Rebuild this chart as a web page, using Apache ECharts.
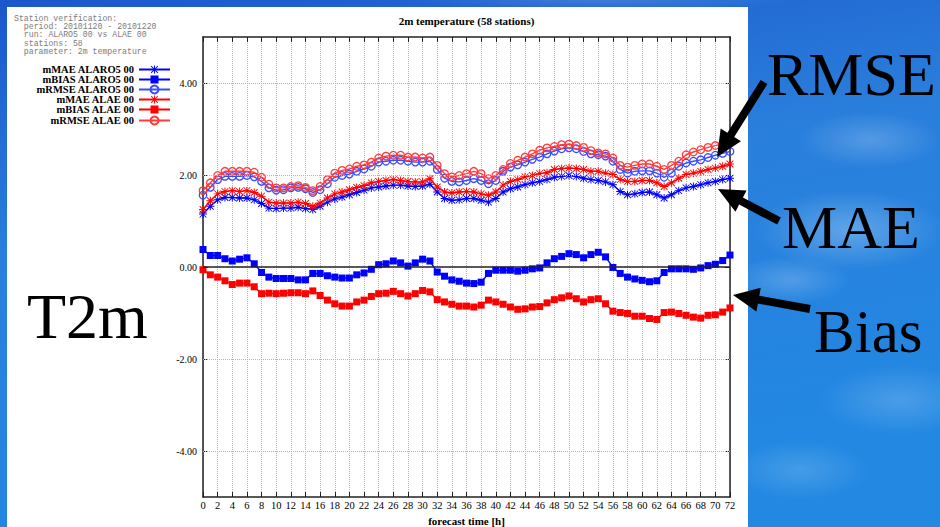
<!DOCTYPE html>
<html>
<head>
<meta charset="utf-8">
<title>2m temperature (58 stations)</title>
<script src="https://cdn.jsdelivr.net/npm/echarts@6/dist/echarts.min.js"></script>
<style>
  html, body { margin: 0; padding: 0; background: #1f66d4; }
  #chart { width: 940px; height: 527px; }
</style>
</head>
<body>
<div id="chart"></div>
<script>
// Forecast lead times [h]
const hours = [0,1,2,3,4,5,6,7,8,9,10,11,12,13,14,15,16,17,18,19,20,21,22,23,24,
  25,26,27,28,29,30,31,32,33,34,35,36,37,38,39,40,41,42,43,44,45,46,47,48,
  49,50,51,52,53,54,55,56,57,58,59,60,61,62,63,64,65,66,67,68,69,70,71,72];

// Scores of ALARO5 00
const maeAlaro = [1.15,1.32,1.46,1.51,1.51,1.50,1.50,1.46,1.38,1.28,1.27,1.28,1.28,1.30,1.27,1.25,1.32,1.41,1.48,1.52,1.57,1.62,1.67,1.72,
  1.74,1.76,1.78,1.78,1.76,1.75,1.76,1.80,1.63,1.49,1.45,1.46,1.49,1.49,1.45,1.41,1.49,1.63,1.70,1.74,1.79,1.83,1.86,1.90,
  1.95,1.97,1.99,1.97,1.93,1.90,1.88,1.85,1.79,1.64,1.57,1.59,1.62,1.63,1.57,1.50,1.57,1.66,1.72,1.75,1.79,1.83,1.86,1.90,1.93];
const biasAlaro = [0.38,0.25,0.25,0.18,0.13,0.17,0.20,0.07,-0.12,-0.22,-0.25,-0.25,-0.25,-0.28,-0.28,-0.14,-0.14,-0.19,-0.22,-0.24,-0.24,-0.17,-0.13,-0.05,
  0.05,0.07,0.13,0.09,0.02,0.09,0.17,0.13,-0.11,-0.20,-0.28,-0.31,-0.35,-0.36,-0.33,-0.14,-0.07,-0.07,-0.07,-0.09,-0.07,-0.04,-0.02,0.09,
  0.18,0.23,0.29,0.27,0.20,0.27,0.32,0.22,-0.01,-0.14,-0.22,-0.26,-0.29,-0.32,-0.30,-0.12,-0.04,-0.04,-0.04,-0.05,-0.02,0.03,0.06,0.14,0.26];
const rmseAlaro = [1.56,1.73,1.90,1.97,1.97,1.97,1.99,1.96,1.86,1.72,1.67,1.68,1.72,1.73,1.70,1.62,1.68,1.81,1.95,1.99,2.02,2.08,2.13,2.19,
  2.28,2.30,2.32,2.32,2.30,2.28,2.28,2.30,2.12,1.93,1.86,1.85,1.88,1.92,1.88,1.81,1.88,2.08,2.17,2.22,2.28,2.34,2.39,2.46,
  2.52,2.57,2.59,2.57,2.51,2.46,2.44,2.41,2.30,2.12,2.04,2.08,2.09,2.09,2.04,1.95,2.04,2.19,2.26,2.30,2.33,2.38,2.43,2.47,2.51];

// Scores of ALAE 00
const maeAlae = [1.25,1.44,1.59,1.64,1.66,1.64,1.66,1.62,1.54,1.41,1.39,1.39,1.39,1.41,1.38,1.32,1.39,1.50,1.59,1.63,1.68,1.73,1.77,1.83,
  1.86,1.88,1.90,1.88,1.86,1.85,1.85,1.92,1.74,1.63,1.61,1.63,1.64,1.63,1.59,1.56,1.63,1.78,1.86,1.90,1.96,1.99,2.03,2.05,
  2.12,2.14,2.15,2.14,2.12,2.08,2.08,2.04,2.01,1.90,1.86,1.86,1.88,1.88,1.83,1.75,1.83,1.93,2.01,2.04,2.08,2.12,2.15,2.19,2.24];
const biasAlae = [-0.06,-0.17,-0.22,-0.30,-0.38,-0.35,-0.35,-0.43,-0.58,-0.57,-0.58,-0.57,-0.56,-0.56,-0.58,-0.52,-0.62,-0.72,-0.80,-0.85,-0.85,-0.76,-0.72,-0.64,
  -0.58,-0.57,-0.53,-0.58,-0.63,-0.58,-0.51,-0.54,-0.71,-0.76,-0.81,-0.85,-0.85,-0.87,-0.83,-0.72,-0.76,-0.81,-0.87,-0.92,-0.91,-0.87,-0.86,-0.78,
  -0.71,-0.67,-0.63,-0.69,-0.76,-0.71,-0.69,-0.80,-0.96,-0.99,-1.01,-1.07,-1.07,-1.12,-1.14,-0.99,-0.98,-1.01,-1.05,-1.09,-1.11,-1.05,-1.04,-0.98,-0.89];
const rmseAlae = [1.66,1.83,1.99,2.08,2.08,2.08,2.08,2.06,1.95,1.80,1.72,1.72,1.75,1.77,1.73,1.66,1.75,1.90,2.04,2.10,2.13,2.19,2.22,2.28,
  2.37,2.41,2.43,2.43,2.39,2.39,2.37,2.39,2.21,2.03,1.96,1.99,2.03,2.08,2.03,1.92,1.99,2.12,2.25,2.32,2.39,2.46,2.54,2.59,
  2.62,2.66,2.67,2.64,2.60,2.53,2.48,2.46,2.37,2.21,2.17,2.21,2.24,2.24,2.19,2.12,2.21,2.30,2.44,2.50,2.55,2.60,2.64,2.68,2.71];

// Axis ticks
const yTicks = [-4, -2, 0, 2, 4];
const yGridLevels = [-4, -2, 2, 4];

// Header block
const headerLines = [
  'Station verification:',
  '  period: 20101120 - 20101220',
  '  run: ALARO5 00 vs ALAE 00',
  '  stations: 58',
  '  parameter: 2m temperature'
];

// Gnuplot style asterisk (plus + cross)
const STAR = 'path://M4.4 0H5.6V10H4.4Z M0 4.4H10V5.6H0Z M0.4 1.2L1.2 0.4L9.6 8.8L8.8 9.6Z M8.8 0.4L9.6 1.2L1.2 9.6L0.4 8.8Z';

const serif = '"Liberation Serif", "DejaVu Serif", serif';

function scoreSeries(name, values, color, symbol, size, hollow, z) {
  return {
    name: name,
    type: 'line',
    data: hours.map((h, i) => [h, values[i]]),
    symbol: symbol,
    symbolSize: size,
    showSymbol: true,
    showAllSymbol: true,
    lineStyle: { color: color, width: 1.4 },
    itemStyle: hollow
      ? { color: 'rgba(255,255,255,0)', borderColor: color, borderWidth: 1.3 }
      : { color: color },
    emphasis: { disabled: true },
    animation: false,
    z: z
  };
}

const series = [
  scoreSeries('mMAE ALARO5 00', maeAlaro, '#0000ff', STAR, 8, false, 3),
  scoreSeries('mBIAS ALARO5 00', biasAlaro, '#0000ff', 'rect', 7, false, 3),
  scoreSeries('mRMSE ALARO5 00', rmseAlaro, '#3a4cff', 'circle', 7.5, true, 3),
  scoreSeries('mMAE ALAE 00', maeAlae, '#ff0000', STAR, 8, false, 4),
  scoreSeries('mBIAS ALAE 00', biasAlae, '#ff0000', 'rect', 7, false, 4),
  scoreSeries('mRMSE ALAE 00', rmseAlae, '#ff3b3b', 'circle', 7.5, true, 4)
];

// horizontal grid and zero axis
series.push({
  type: 'line',
  data: [],
  z: 1,
  silent: true,
  markLine: {
    silent: true,
    symbol: 'none',
    animation: false,
    label: { show: false },
    data: yGridLevels.map(v => ({ yAxis: v, lineStyle: { color: '#b4b4b4', type: 'dotted', width: 1 } }))
      .concat([{ yAxis: 0, lineStyle: { color: '#222', type: 'solid', width: 1.5 } }])
  }
});

const legendRows = [70, 80, 90, 100, 110, 121];
const legends = series.slice(0, 6).map((s, k) => ({
  data: [s.name],
  right: 769,
  top: legendRows[k] - 6,
  orient: 'vertical',
  align: 'right',
  padding: 0,
  itemWidth: 31,
  itemHeight: 10,
  itemGap: 0,
  selectedMode: false,
  textStyle: { fontFamily: serif, fontWeight: 'bold', fontSize: 10.5, color: '#000' }
}));

// slide annotations: arrows and big labels
function arrowPoints(tail, tip, shaftW, headLen, headW) {
  const dx = tip[0] - tail[0], dy = tip[1] - tail[1];
  const len = Math.hypot(dx, dy);
  const ux = dx / len, uy = dy / len;
  const nx = -uy, ny = ux;
  const bx = tip[0] - ux * headLen, by = tip[1] - uy * headLen;
  return [
    [tail[0] + nx * shaftW / 2, tail[1] + ny * shaftW / 2],
    [bx + nx * shaftW / 2, by + ny * shaftW / 2],
    [bx + nx * headW / 2, by + ny * headW / 2],
    [tip[0], tip[1]],
    [bx - nx * headW / 2, by - ny * headW / 2],
    [bx - nx * shaftW / 2, by - ny * shaftW / 2],
    [tail[0] - nx * shaftW / 2, tail[1] - ny * shaftW / 2]
  ];
}

const arrows = [
  { tail: [764, 82], tip: [717, 157] },
  { tail: [779, 221], tip: [718, 189] },
  { tail: [810, 309], tip: [733, 295] }
];

const bigLabels = [
  { text: 'T2m', x: 27, y: 316, size: 64 },
  { text: 'RMSE', x: 767, y: 74, size: 62 },
  { text: 'MAE', x: 782, y: 227, size: 62 },
  { text: 'Bias', x: 814, y: 331, size: 61 }
];

const clouds = [
  { cx: 870, cy: 140, rx: 70, ry: 28, a: 0.22 },
  { cx: 850, cy: 230, rx: 95, ry: 40, a: 0.30 },
  { cx: 790, cy: 280, rx: 60, ry: 24, a: 0.22 },
  { cx: 900, cy: 400, rx: 80, ry: 35, a: 0.20 },
  { cx: 800, cy: 470, rx: 70, ry: 30, a: 0.18 },
  { cx: 600, cy: 0, rx: 200, ry: 10, a: 0.15 }
];

const graphics = [
  {
    type: 'rect', z: -20, silent: true,
    shape: { x: 0, y: 0, width: 940, height: 527 },
    style: {
      fill: {
        type: 'linear', x: 0, y: 0, x2: 0.3, y2: 1,
        colorStops: [
          { offset: 0, color: '#1b57cc' },
          { offset: 0.45, color: '#2a7fdc' },
          { offset: 1, color: '#2288e2' }
        ]
      }
    }
  }
].concat(clouds.map(c => ({
  type: 'ellipse', z: -19, silent: true,
  shape: { cx: c.cx, cy: c.cy, rx: c.rx, ry: c.ry },
  style: {
    fill: {
      type: 'radial', x: 0.5, y: 0.5, r: 0.5,
      colorStops: [
        { offset: 0, color: 'rgba(235,245,255,' + c.a + ')' },
        { offset: 1, color: 'rgba(235,245,255,0)' }
      ]
    }
  }
}))).concat([
  {
    type: 'rect', z: -18, silent: true,
    shape: { x: 7, y: 7, width: 741, height: 520 },
    style: { fill: '#ffffff' }
  },
  {
    type: 'text', z: 10, silent: true,
    x: 466.5, y: 21,
    style: {
      text: '2m temperature (58 stations)',
      font: 'bold 11px ' + serif,
      fill: '#000', align: 'center', verticalAlign: 'middle'
    }
  }
]).concat(headerLines.map((line, k) => ({
  type: 'text', z: 10, silent: true,
  x: 14, y: [18, 26, 34, 43, 51][k],
  style: {
    text: line,
    font: '8.2px "Liberation Mono", "DejaVu Sans Mono", monospace',
    fill: '#7c7c7c', align: 'left', verticalAlign: 'middle'
  }
}))).concat(arrows.map(a => ({
  type: 'polygon', z: 20, silent: true,
  shape: { points: arrowPoints(a.tail, a.tip, 8, 26, 24) },
  style: { fill: '#000' }
}))).concat(bigLabels.map(l => ({
  type: 'text', z: 20, silent: true,
  x: l.x, y: l.y,
  style: {
    text: l.text,
    font: l.size + 'px ' + serif,
    fill: '#000', align: 'left', verticalAlign: 'middle'
  }
})));

const axisLine = { show: true, onZero: false, lineStyle: { color: '#222', width: 1.5 } };
const tickInside = { show: true, inside: true, length: 5, lineStyle: { color: '#222', width: 1 } };

const option = {
  animation: false,
  backgroundColor: 'transparent',
  grid: { left: 203, top: 37, width: 527, height: 460, show: false, containLabel: false, outerBoundsMode: 'none' },
  legend: legends,
  graphic: graphics,
  xAxis: [
    {
      type: 'value', position: 'bottom', min: 0, max: 72, interval: 2,
      axisLine: axisLine,
      axisTick: tickInside,
      axisLabel: { fontFamily: serif, fontSize: 10.5, color: '#000', margin: 3 },
      splitLine: { show: true, lineStyle: { color: '#b4b4b4', type: 'dotted', width: 1 } },
      name: 'forecast time [h]',
      nameLocation: 'middle',
      nameGap: 17,
      nameTextStyle: { fontFamily: serif, fontWeight: 'bold', fontSize: 11, color: '#000' }
    },
    {
      type: 'value', position: 'top', min: 0, max: 72, interval: 2,
      axisLine: axisLine,
      axisTick: tickInside,
      axisLabel: { show: false },
      splitLine: { show: false }
    }
  ],
  yAxis: [
    {
      type: 'value', position: 'left', min: -5, max: 5,
      axisLine: axisLine,
      axisTick: Object.assign({ customValues: yTicks }, tickInside),
      axisLabel: {
        customValues: yTicks,
        fontFamily: serif, fontSize: 10, color: '#000', margin: 6,
        formatter: v => v.toFixed(2)
      },
      splitLine: { show: false }
    },
    {
      type: 'value', position: 'right', min: -5, max: 5,
      axisLine: axisLine,
      axisTick: Object.assign({ customValues: yTicks }, tickInside),
      axisLabel: { show: false },
      splitLine: { show: false }
    }
  ],
  series: series
};

const chart = echarts.init(document.getElementById('chart'), null, { renderer: 'svg' });
chart.setOption(option);
</script>
</body>
</html>
